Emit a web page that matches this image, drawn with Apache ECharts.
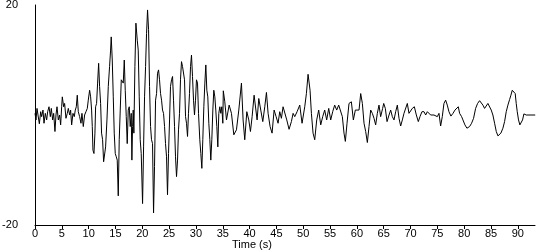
<!DOCTYPE html>
<html>
<head>
<meta charset="utf-8">
<script src="https://cdn.jsdelivr.net/npm/echarts@6/dist/echarts.min.js"></script>
<style>
html,body{margin:0;padding:0;background:#fff;}
#chart{width:550px;height:250px;}
</style>
</head>
<body>
<div id="chart"></div>
<script>
// Time (s)
const timeS = [
0,0.19,0.37,0.62,0.81,1.06,1.24,1.49,1.68,1.92,2.17,2.36,2.61,2.86,3.04,3.29,3.48,3.72,3.91,4.10,
4.35,4.59,4.78,4.97,5.09,5.34,5.52,5.77,6.02,6.21,6.46,6.64,6.83,7.08,7.32,7.51,7.70,7.88,8.07,8.32,
8.57,8.75,9.0,9.25,9.50,9.75,9.93,10.18,10.37,10.55,10.68,10.80,10.99,11.17,11.30,11.48,11.67,11.86,12.04,12.23,
12.41,12.60,12.79,12.97,13.16,13.41,13.66,13.90,14.09,14.21,14.40,14.59,14.77,14.96,15.15,15.33,15.52,15.70,15.89,16.08,
16.26,16.45,16.64,16.82,17.01,17.19,17.38,17.57,17.75,17.94,
18.06,18.19,18.31,18.43,18.62,18.81,19.06,19.24,19.43,19.61,19.80,20.05,20.24,20.42,20.61,20.79,20.98,21.17,21.35,21.54,
21.72,21.91,22.10,22.28,22.47,22.66,22.84,23.03,23.21,23.40,23.59,23.77,23.96,24.15,24.33,24.52,24.70,24.89,25.08,25.26,
25.45,25.64,25.82,26.01,26.19,26.38,26.57,26.75,26.94,27.12,27.31,27.50,27.68,27.87,28.06,28.24,28.43,28.61,28.80,28.99,
29.17,29.36,29.55,29.73,29.92,30.10,30.29,30.48,30.72,30.91,31.10,31.28,31.47,31.66,31.84,32.03,32.21,32.40,32.59,32.77,
32.96,33.15,33.33,33.52,33.70,33.89,34.08,34.26,34.45,34.64,34.82,35.01,35.10,
35.38,35.69,36.19,36.62,37.06,37.55,37.99,38.48,38.79,39.10,39.48,39.85,40.16,40.47,40.84,41.15,41.40,41.71,42.08,42.46,
42.83,43.14,43.45,43.82,44.19,44.57,44.94,45.31,45.62,45.93,46.24,46.55,46.93,47.36,47.79,48.11,48.42,48.85,49.35,49.78,
50.28,50.59,50.90,51.27,51.52,51.83,52.14,52.51,52.88,53.26,53.63,54.00,54.37,54.75,55.12,55.49,55.86,56.24,56.61,56.98,
57.29,57.60,57.85,58.16,58.53,58.97,59.34,59.71,60.08,60.40,60.71,61.02,61.33,61.64,61.95,62.26,62.57,62.88,63.19,63.50,
63.81,64.12,64.43,64.80,
65.0,65.30,65.62,65.99,66.30,66.61,66.92,67.23,67.54,67.85,68.16,68.47,68.78,69.09,69.40,69.71,70.02,70.33,70.71,71.08,
71.45,71.76,72.13,72.51,72.82,73.13,73.44,73.75,74.06,74.37,74.68,74.99,75.30,75.61,75.92,76.23,76.54,76.85,77.16,77.53,
77.91,78.28,78.65,78.90,79.15,79.52,79.77,80.14,80.51,81.01,81.38,81.75,82.13,82.50,82.87,83.18,83.49,83.80,84.11,84.42,
84.73,85.04,85.35,85.67,85.98,86.29,86.53,86.84,87.22,87.53,87.84,88.15,88.46,88.71,88.96,89.27,89.51,89.70,89.89,90.13,
90.38,90.63,90.88,91.13,91.31,91.56,93.24
];
// Acceleration (cm/s/s)
const accel = [
0.3,-0.9,1.2,1.5,-1.6,0.6,-0.3,0.9,-1.5,0.3,-0.9,0.6,1.5,-0.3,1.2,-0.9,0.3,-3.0,0,1.5,
-0.9,0,-1.8,1.5,3.3,1.5,2.1,-0.6,0.3,1.2,0,0.9,-1.8,0.3,-0.3,0.9,1.5,3.6,0.6,-0.3,
-1.5,0.3,-2.1,0,0.6,1.2,2.7,4.5,3.3,0.9,-2.1,-6.4,-7.0,-3.3,1.5,2.1,5.8,9.4,5.2,2.1,
-3.3,-4.5,-8.5,-8.8,-5.8,-0.9,5.2,8.8,11.8,14.2,10.0,3.3,-3.3,-7.0,-7.6,-8.2,-14.7,-4.5,0.9,6.4,
6.7,5.8,10.0,4.5,-0.3,-5.2,0.9,1.5,-2.1,0.3,
-8.2,-2.1,0.9,-3.3,8.8,16.7,13.6,11.8,3.3,-4.5,-7.0,-16.1,-5.8,3.3,8.8,14.8,19.1,15.5,5.2,-2.1,
-4.5,-5.2,-17.8,-9.4,2.7,3.9,7.6,8.2,6.4,3.9,2.7,0.9,0.3,-2.1,-5.2,-7.6,-14.5,-7.0,-0.9,5.2,
6.4,7.0,2.7,-2.1,-7.6,-11.2,-8.2,-2.7,0.3,6.4,9.7,8.8,9.1,6.4,-0.3,-1.5,-3.9,0.3,3.9,8.8,
10.9,7.0,2.7,0,2.7,6.4,5.8,0.3,-4.5,-7.0,-9.7,-4.5,1.5,5.8,9.1,4.5,3.3,-1.5,-4.5,-8.2,
-4.5,0.9,4.5,3.3,0.9,-2.1,-5.8,0.3,1.5,0.3,1.5,-1.5,4.4,
2.4,-0.9,1.8,0.3,-3.6,-2.7,0.9,5.8,-0.9,-4.5,0.6,-0.9,-3.0,-0.3,3.6,3.3,-0.9,3.0,0.9,-1.2,
1.5,4.1,0.3,-2.1,-3.3,0.9,-0.3,-1.5,0.6,-0.6,1.5,1.5,-0.9,-2.6,-1.2,0.3,-0.3,0.6,1.8,-1.5,
1.5,3.9,7.4,4.5,0.3,-3.3,-4.5,-0.9,0.9,-1.8,-0.3,0.9,-0.9,1.2,-0.9,0.6,1.8,0.9,1.8,2.1,
-0.3,-3.3,-4.8,-1.5,2.1,2.4,-0.9,0.9,0.6,0.9,3.9,2.1,-1.5,-3.0,-5.0,-2.1,0.9,0.3,-0.6,-1.8,
0.3,1.8,-0.3,1.2,
2.1,1.2,-1.2,0,0.9,-0.3,-0.9,0.6,1.8,-0.6,-2.0,-0.9,0.3,0.6,2.1,0.3,0,1.2,1.5,0,
-1.2,-0.3,0.6,0.6,0,0.6,0.4,0,0,0,0.3,-0.3,0.3,-2.0,-0.3,2.1,2.7,1.8,0.6,-0.2,
0.3,0.9,1.2,1.5,0.3,-0.3,-0.9,-1.8,-2.4,-2.1,-1.5,-0.6,1.2,2.1,2.6,2.5,1.8,1.2,1.5,2.1,
1.8,0.9,0,-1.5,-3.0,-3.8,-3.9,-3.3,-2.4,-1.2,0.6,1.8,2.8,3.6,4.5,4.7,3.9,2.1,0.6,-0.9,
-1.8,-2.0,-0.9,0.2,0.3,0,0
];
const yTicks = [-20, 20];
const xMax = 93.2;

const chart = echarts.init(document.getElementById('chart'), null, {renderer: 'canvas'});
const font = 'Liberation Sans, Arial, sans-serif';
chart.setOption({
  animation: false,
  backgroundColor: '#ffffff',
  grid: {left: 35, right: 15, top: 5, bottom: 25, containLabel: false, outerBoundsMode: 'none'},
  xAxis: {
    type: 'value', min: 0, max: xMax, interval: 5,
    axisLine: {show: true, onZero: false, lineStyle: {color: '#000', width: 1}},
    axisTick: {show: true, length: 4, lineStyle: {color: '#000'}},
    axisLabel: {color: '#000', fontSize: 11, fontFamily: font, margin: 3,
      showMaxLabel: false},
    splitLine: {show: false}
  },
  yAxis: {
    type: 'value', min: -20, max: 20, interval: 20,
    name: 'cm/s/s', nameLocation: 'middle', nameGap: 18, nameRotate: 90,
    nameTextStyle: {color: '#000', fontSize: 11, fontFamily: font},
    axisLine: {show: true, onZero: false, lineStyle: {color: '#000', width: 1}},
    axisTick: {show: false},
    axisLabel: {color: '#000', fontSize: 11, fontFamily: font, margin: 17,
      formatter: v => (yTicks.indexOf(v) >= 0 ? String(v) : '')},
    splitLine: {show: false}
  },
  graphic: [{
    type: 'text', left: 232, top: 239,
    style: {text: 'Time (s)', fill: '#000', font: '11px ' + font}
  }],
  series: [{
    type: 'line',
    data: timeS.map((t, i) => [t, accel[i]]),
    showSymbol: false,
    lineStyle: {color: '#000', width: 1},
    silent: true
  }]
});
</script>
</body>
</html>
